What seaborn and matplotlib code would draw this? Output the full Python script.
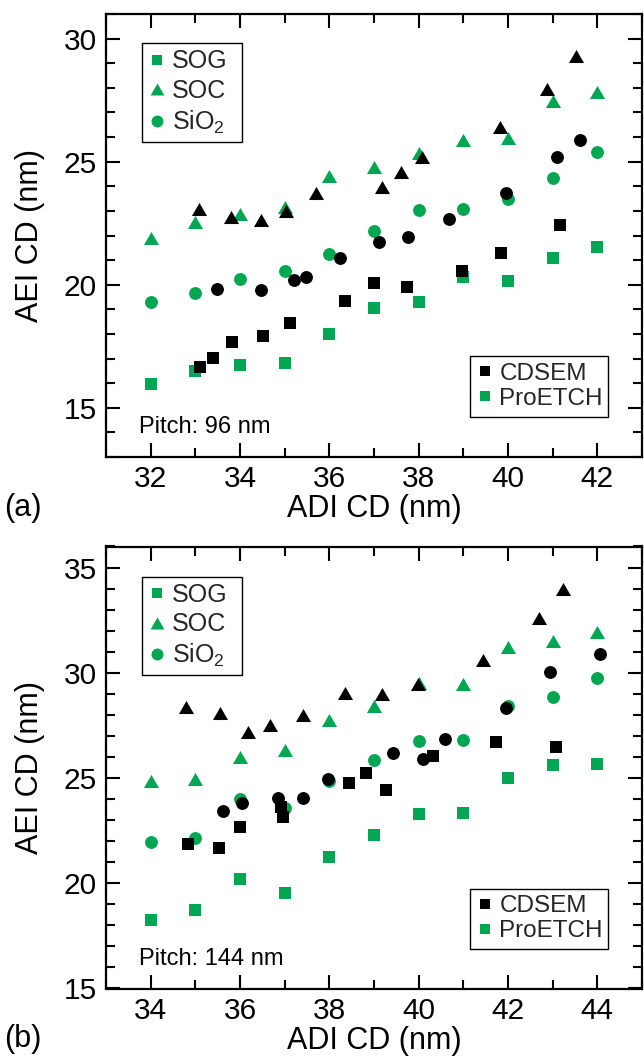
import matplotlib
matplotlib.use("Agg")
import numpy as np
import pandas as pd
import seaborn as sns
import matplotlib.pyplot as plt
from matplotlib.path import Path
from matplotlib.lines import Line2D
from matplotlib.ticker import MultipleLocator

# ---------------- data: pitch 96 nm ----------------
a_pro_x = [32, 33, 34, 35, 36, 37, 38, 39, 40, 41, 42]
a_sog_pro_y = [15.96, 16.48, 16.75, 16.80, 18.00, 19.04, 19.28, 20.30, 20.16, 21.09, 21.55]
a_soc_pro_y = [21.90, 22.53, 22.87, 23.17, 24.40, 24.77, 25.34, 25.88, 25.98, 27.48, 27.83]
a_sio2_pro_y = [19.28, 19.66, 20.23, 20.57, 21.25, 22.18, 23.02, 23.06, 23.49, 24.35, 25.41]

a_sog_sem_x = [33.10, 33.39, 33.81, 34.52, 35.13, 36.36, 37.00, 37.74, 38.96, 39.84, 41.17]
a_sog_sem_y = [16.67, 17.04, 17.68, 17.93, 18.43, 19.32, 20.05, 19.89, 20.54, 21.29, 22.44]
a_soc_sem_x = [33.09, 33.79, 34.47, 35.04, 35.70, 37.17, 37.61, 38.07, 39.82, 40.87, 41.52]
a_soc_sem_y = [23.08, 22.74, 22.63, 23.00, 23.71, 23.98, 24.59, 25.18, 26.42, 27.94, 29.28]
a_sio2_sem_x = [33.48, 34.47, 35.21, 35.47, 36.24, 37.11, 37.76, 38.67, 39.95, 41.10, 41.61]
a_sio2_sem_y = [19.83, 19.80, 20.20, 20.30, 21.09, 21.72, 21.94, 22.68, 23.71, 25.20, 25.88]

# ---------------- data: pitch 144 nm ----------------
b_pro_x = [34, 35, 36, 37, 38, 39, 40, 41, 42, 43, 44]
b_sog_pro_y = [18.26, 18.74, 20.21, 19.56, 21.27, 22.30, 23.29, 23.32, 24.99, 25.62, 25.67]
b_soc_pro_y = [24.87, 24.95, 26.01, 26.33, 27.75, 28.43, 29.50, 29.49, 31.23, 31.50, 31.94]
b_sio2_pro_y = [21.98, 22.17, 23.99, 23.56, 24.85, 25.85, 26.77, 26.80, 28.40, 28.83, 29.76]

b_sog_sem_x = [34.83, 35.52, 36.00, 36.91, 36.96, 38.43, 38.81, 39.26, 40.33, 41.74, 43.07]
b_sog_sem_y = [21.85, 21.69, 22.66, 23.64, 23.14, 24.75, 25.22, 24.43, 26.04, 26.72, 26.49]
b_soc_sem_x = [34.78, 35.56, 36.17, 36.68, 37.41, 38.36, 39.19, 39.98, 41.43, 42.70, 43.24]
b_soc_sem_y = [28.39, 28.07, 27.20, 27.52, 27.99, 29.02, 28.97, 29.49, 30.63, 32.61, 33.97]
b_sio2_sem_x = [35.63, 36.04, 36.85, 37.42, 37.96, 39.42, 40.09, 40.59, 41.95, 42.93, 44.05]
b_sio2_sem_y = [23.45, 23.80, 24.04, 24.07, 24.95, 26.17, 25.89, 26.85, 28.31, 30.05, 30.87]

materials = ["SOG", "SOC", "SiO$_2$"]
sources = ["CDSEM", "ProETCH"]
pitch_labels = ["Pitch: 96 nm", "Pitch: 144 nm"]
panel_tags = ["(a)", "(b)"]

GREEN = "#00a651"
BLACK = "#000000"
colors = {"ProETCH": GREEN, "CDSEM": BLACK}

# equilateral-ish triangle marker
tri = Path([(0, 0.433), (-0.5, -0.433), (0.5, -0.433), (0, 0.433)],
           [Path.MOVETO, Path.LINETO, Path.LINETO, Path.CLOSEPOLY])
markers = {"SOG": "s", "SOC": tri, "SiO$_2$": "o"}
sizes = {"SOG": 70, "SOC": 118, "SiO$_2$": 86}
leg_ms = {"SOG": 7.5, "SOC": 10.0, "SiO$_2$": 8.6}


def frame(x_pro, pro_ys, sem_xs, sem_ys):
    rows = []
    for m, py, sx, sy in zip(materials, pro_ys, sem_xs, sem_ys):
        for x, y in zip(x_pro, py):
            rows.append((m, "ProETCH", x, y))
        for x, y in zip(sx, sy):
            rows.append((m, "CDSEM", x, y))
    return pd.DataFrame(rows, columns=["material", "source", "adi", "aei"])


df_a = frame(a_pro_x, [a_sog_pro_y, a_soc_pro_y, a_sio2_pro_y],
             [a_sog_sem_x, a_soc_sem_x, a_sio2_sem_x],
             [a_sog_sem_y, a_soc_sem_y, a_sio2_sem_y])
df_b = frame(b_pro_x, [b_sog_pro_y, b_soc_pro_y, b_sio2_pro_y],
             [b_sog_sem_x, b_soc_sem_x, b_sio2_sem_x],
             [b_sog_sem_y, b_soc_sem_y, b_sio2_sem_y])

sns.set_theme(style="ticks")
plt.rcParams["font.family"] = ["Liberation Sans", "DejaVu Sans"]
plt.rcParams["mathtext.fontset"] = "custom"
plt.rcParams["mathtext.rm"] = "Liberation Sans"
plt.rcParams["mathtext.it"] = "Liberation Sans:italic"

W, H = 644, 1056
fig = plt.figure(figsize=(W / 100, H / 100), dpi=100)
fig.patch.set_facecolor("white")

# axes boxes in pixels: left, top, right, bottom
boxes = [(106, 14, 642, 457), (106, 546.5, 642, 988.5)]
xlims = [(31, 43), (33, 45)]
ylims = [(13, 31), (15, 36)]
leg1_top = [0.934, 0.932]
leg2_bottom = [0.091, 0.089]

for i, (df, box) in enumerate(zip([df_a, df_b], boxes)):
    l, t, r, b = box
    ax = fig.add_axes([l / W, 1 - b / H, (r - l) / W, (b - t) / H])
    ax.set_facecolor("white")
    for src in ["ProETCH", "CDSEM"]:
        for m in materials:
            sub = df[(df["source"] == src) & (df["material"] == m)]
            sns.scatterplot(data=sub, x="adi", y="aei", ax=ax, marker=markers[m],
                            s=sizes[m], color=colors[src], linewidth=0,
                            legend=False, zorder=3)
    ax.set_xlim(*xlims[i])
    ax.set_ylim(*ylims[i])
    ax.xaxis.set_major_locator(MultipleLocator(2))
    ax.xaxis.set_minor_locator(MultipleLocator(1))
    ax.yaxis.set_major_locator(MultipleLocator(5))
    ax.yaxis.set_minor_locator(MultipleLocator(1))
    ax.tick_params(which="both", direction="in", top=True, right=True,
                   width=1.5, color="black", labelsize=21.5, labelcolor="black")
    ax.tick_params(which="major", length=10)
    ax.tick_params(which="minor", length=6.5)
    ax.tick_params(axis="x", which="major", pad=6.0)
    ax.tick_params(axis="y", which="major", pad=6.5)
    for sp in ax.spines.values():
        sp.set_linewidth(1.6)
        sp.set_color("black")

    ax.set_xlabel("ADI CD (nm)", fontsize=22, color="black", va="center")
    ax.xaxis.set_label_coords(0.5, -0.118)
    ax.set_ylabel("AEI CD (nm)", fontsize=22, color="black", va="center")
    ax.yaxis.set_label_coords(-0.142, 0.5)

    ax.text(0.062, 0.054, pitch_labels[i], transform=ax.transAxes,
            fontsize=17, va="baseline", ha="left", color="black")

    mat_handles = [Line2D([], [], linestyle="none", marker=markers[m], color=GREEN,
                          markeredgewidth=0, markersize=leg_ms[m]) for m in materials]
    leg1 = ax.legend(mat_handles, materials, loc="upper left", mode="expand",
                     bbox_to_anchor=(0.0677, leg1_top[i] - 0.4, 0.1855, 0.4),
                     borderaxespad=0, fontsize=18, frameon=True, fancybox=False,
                     edgecolor="black", framealpha=1, handlelength=0.7,
                     handletextpad=0.23, labelspacing=0.22, borderpad=0.25)
    leg1.get_frame().set_linewidth(1.0)
    ax.add_artist(leg1)

    src_handles = [Line2D([], [], linestyle="none", marker="s", color=colors[s],
                          markeredgewidth=0, markersize=7.5) for s in sources]
    leg2 = ax.legend(src_handles, sources, loc="lower right", mode="expand",
                     bbox_to_anchor=(0.679, leg2_bottom[i], 0.258, 0.4),
                     borderaxespad=0, fontsize=17.5, frameon=True, fancybox=False,
                     edgecolor="black", framealpha=1, handlelength=0.7,
                     handletextpad=0.23, labelspacing=0.12, borderpad=0.28)
    leg2.get_frame().set_linewidth(1.0)

    fig.text(4 / W, 1 - (b + 51) / H, panel_tags[i], fontsize=22,
             ha="left", va="center", color="black")

fig.savefig("out.png", dpi=100, facecolor="white")
